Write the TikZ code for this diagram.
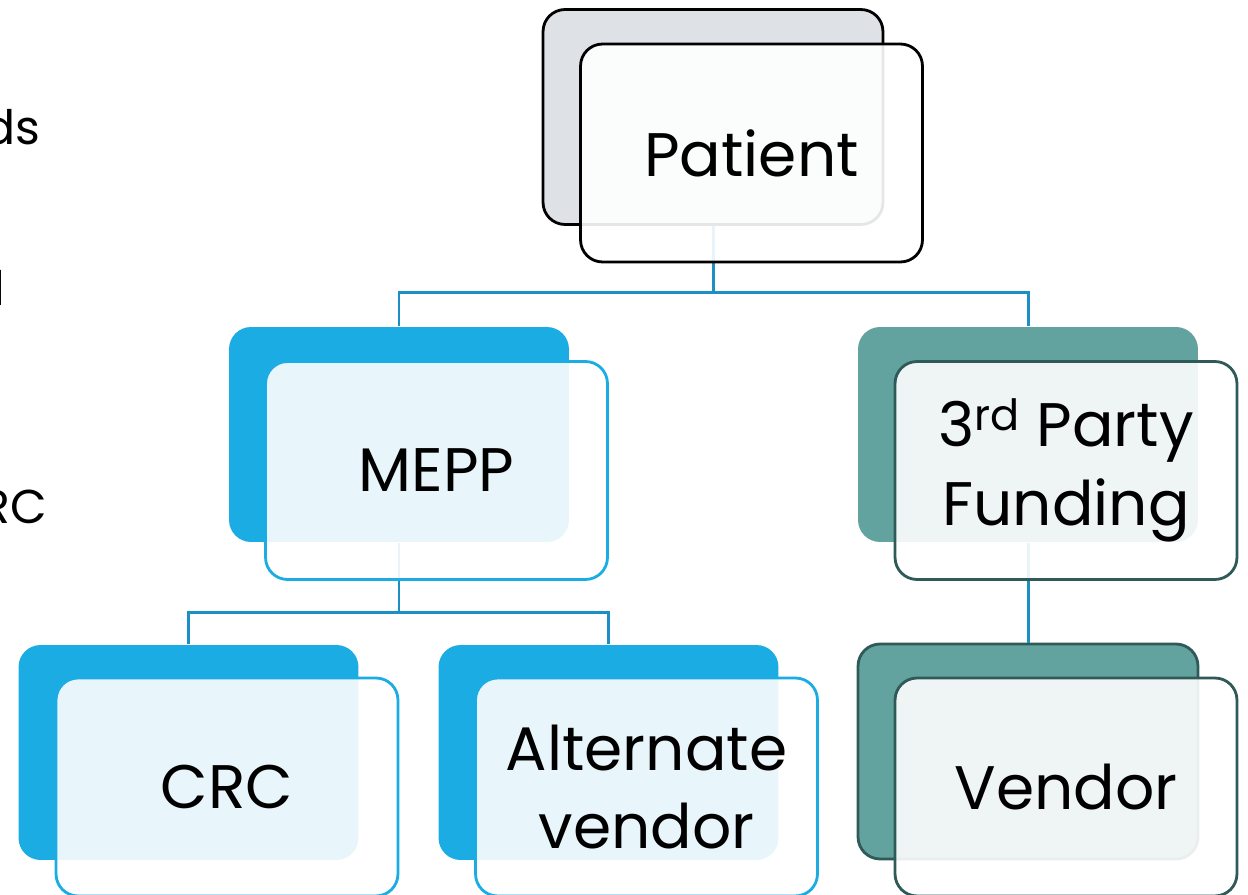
\documentclass[tikz,border=0pt]{standalone}
\usepackage{fontspec}
\setmainfont{Poppins}
\definecolor{greyback}{HTML}{DEE1E5}
\definecolor{cyanback}{HTML}{1BACE3}
\definecolor{tealback}{HTML}{62A39F}
\definecolor{tealline}{HTML}{2F5A58}
\definecolor{linkblue}{HTML}{1C90C4}
\begin{document}
\begin{tikzpicture}[x=0.02cm,y=-0.02cm,
  back/.style={rectangle, rounded corners=0.44cm, minimum width=6.8cm, minimum height=4.3cm, line width=1.6pt},
  front/.style={rectangle, rounded corners=0.44cm, minimum width=6.84cm, minimum height=4.36cm, line width=1.6pt,
    fill=white, fill opacity=0.9, text opacity=1, align=center, font=\fontsize{35}{44.8}\selectfont},
  side/.style={anchor=base east, inner sep=0pt, font=\fontsize{27}{32}\selectfont},
  link/.style={draw=linkblue, line width=1.7pt}]
\useasboundingbox (0,0) rectangle (1248,895);
\node[side] (s1) at (41,145) {ds};
\node[side] (s2) at (6,306) {l};
\node[side] (s3) at (47,523) {RC};
\node[back, draw=black, fill=greyback] (pb) at (713,117) {};
\node[back, fill=cyanback] (mb) at (399,434.5) {};
\node[back, fill=tealback] (tb) at (1028,434.5) {};
\node[back, fill=cyanback] (cb) at (188.5,752.5) {};
\node[back, fill=cyanback] (ab) at (608.5,752.5) {};
\node[back, draw=tealline, fill=tealback] (vb) at (1028,751.5) {};
\draw[link] (pb.south) -- ++(0,67) -| (mb.north);
\draw[link] (pb.south) -- ++(0,67) -| (tb.north);
\draw[link] (mb.south) -- ++(0,69) -| (cb.north);
\draw[link] (mb.south) -- ++(0,69) -| (ab.north);
\draw[link] (tb.south) -- (vb.north);
\node[front, draw=black] (p) at (751.5,153) {Patient};
\node[front, draw=cyanback] (m) at (436.5,470.5) {MEPP};
\node[front, draw=tealline] (t) at (1066,470.5) {\raisebox{-6pt}{}3\textsuperscript{rd} Party\\Funding};
\node[front, draw=cyanback] (c) at (227,787) {CRC};
\node[front, draw=cyanback] (a) at (646.5,787) {Alternate\\vendor};
\node[front, draw=tealline] (v) at (1066,787) {Vendor};
\end{tikzpicture}
\end{document}
